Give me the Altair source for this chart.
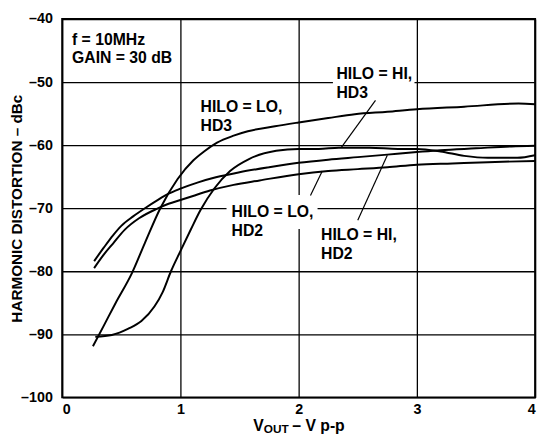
import altair as alt
import pandas as pd

# ---- data ----
x_ticks = [0, 1, 2, 3, 4]
y_ticks = [-100, -90, -80, -70, -60, -50, -40]

lo_hd3_x = [0.26, 0.35, 0.45, 0.59, 0.70, 0.83, 0.975, 1.11, 1.20, 1.31, 1.45, 1.57, 1.80, 2.00, 2.25, 2.475, 2.75, 3.00, 3.40, 3.86, 4.00]
lo_hd3_y = [-91.9, -88.7, -85.1, -80.3, -75.5, -70.0, -65.4, -62.4, -61.0, -59.6, -58.5, -57.8, -57.0, -56.4, -55.7, -55.1, -54.7, -54.3, -53.9, -53.4, -53.5]

hi_hd3_x = [0.28, 0.42, 0.56, 0.67, 0.78, 0.85, 0.92, 1.00, 1.09, 1.17, 1.29, 1.42, 1.58, 1.81, 2.00, 2.17, 2.34, 2.60, 2.84, 3.00, 3.20, 3.40, 3.60, 3.85, 4.00]
hi_hd3_y = [-90.4, -90.1, -89.1, -87.9, -85.6, -83.3, -80.0, -76.8, -73.3, -70.3, -66.8, -64.1, -62.2, -60.9, -60.6, -60.6, -60.4, -60.4, -60.6, -60.6, -61.0, -61.7, -62.0, -62.0, -61.6]

hi_hd2_x = [0.27, 0.35, 0.43, 0.50, 0.60, 0.70, 0.80, 0.90, 1.00, 1.15, 1.30, 1.50, 1.75, 2.00, 2.25, 2.50, 2.75, 3.00, 3.20, 3.50, 3.80, 4.00]
hi_hd2_y = [-78.4, -76.3, -74.3, -72.8, -71.3, -70.0, -68.8, -67.7, -66.9, -65.9, -65.1, -64.3, -63.5, -62.8, -62.3, -61.9, -61.5, -61.1, -60.8, -60.5, -60.2, -60.1]

lo_hd2_x = [0.27, 0.35, 0.43, 0.53, 0.65, 0.80, 0.90, 1.00, 1.10, 1.25, 1.45, 1.67, 2.00, 2.25, 2.50, 2.75, 3.00, 3.30, 3.60, 4.00]
lo_hd2_y = [-79.5, -77.4, -75.6, -73.4, -71.6, -70.1, -69.3, -68.7, -68.1, -67.2, -66.3, -65.6, -64.6, -64.1, -63.8, -63.5, -63.1, -62.9, -62.7, -62.5]

series_names = ["HILO = LO, HD3", "HILO = HI, HD3", "HILO = HI, HD2", "HILO = LO, HD2"]

label_texts = ["f = 10MHz\nGAIN = 30 dB", "HILO = LO,\nHD3", "HILO = HI,\nHD3", "HILO = LO,\nHD2", "HILO = HI,\nHD2"]
label_x = [0.083, 1.17, 2.32, 1.433, 2.19]
label_y = [-44.06, -54.8, -49.58, -71.36, -75.05]

# leader lines (label -> curve)
leader_x1 = [2.65, 2.10, 2.50]
leader_y1 = [-52.9, -68.0, -71.9]
leader_x2 = [2.36, 2.20, 2.75]
leader_y2 = [-60.4, -64.1, -61.6]

# white backing boxes behind labels that interrupt gridlines
box_x0 = [2.29, 1.39]
box_x1 = [2.98, 2.16]
box_y0 = [-47.4, -67.9]
box_y1 = [-52.7, -73.3]

x_title_parts = ["V", "OUT", "– V p-p"]
y_title = "HARMONIC DISTORTION – dBc"

# ---- build tables ----
rows = []
for name, xs, ys in zip(series_names,
                        [lo_hd3_x, hi_hd3_x, hi_hd2_x, lo_hd2_x],
                        [lo_hd3_y, hi_hd3_y, hi_hd2_y, lo_hd2_y]):
    for xv, yv in zip(xs, ys):
        rows.append({"series": name, "v": xv, "d": yv})
df = pd.DataFrame(rows)

labels_df = pd.DataFrame({"t": label_texts, "lx": label_x, "ly": label_y})
leaders_df = pd.DataFrame({"a": leader_x1, "b": leader_y1, "a2": leader_x2, "b2": leader_y2})
boxes_df = pd.DataFrame({"x0": box_x0, "x1": box_x1, "y0": box_y0, "y1": box_y1})

FONT = "Liberation Sans"

xscale = alt.Scale(domain=[0, 4], nice=False)
yscale = alt.Scale(domain=[-100, -40], nice=False)

neg_expr = "datum.value < 0 ? '–' + format(-datum.value, 'd') : format(datum.value, 'd')"

xaxis = alt.Axis(values=x_ticks, title=None, labelPadding=5, labelExpr=neg_expr)
yaxis = alt.Axis(values=y_ticks, title=y_title, labelPadding=10, labelExpr=neg_expr,
                 titleX=-46, titleY=192, titleAngle=270, titleAlign="center",
                 titleBaseline="middle", titleFontSize=15.5, titleFontWeight="bold",
                 titleFont=FONT, titleColor="black")

lines = alt.Chart(df).mark_line(color="black", strokeWidth=2, interpolate="monotone").encode(
    x=alt.X("v:Q", scale=xscale, axis=xaxis),
    y=alt.Y("d:Q", scale=yscale, axis=yaxis),
    detail="series:N",
)

boxes = alt.Chart(boxes_df).mark_rect(fill="white", strokeWidth=0).encode(
    x=alt.X("x0:Q", scale=xscale, axis=xaxis), x2="x1:Q",
    y=alt.Y("y0:Q", scale=yscale, axis=yaxis), y2="y1:Q",
)

leaders = alt.Chart(leaders_df).mark_rule(color="black", strokeWidth=1.2).encode(
    x=alt.X("a:Q", scale=xscale, axis=xaxis), x2="a2:Q",
    y=alt.Y("b:Q", scale=yscale, axis=yaxis), y2="b2:Q",
)

labels = alt.Chart(labels_df).mark_text(
    align="left", baseline="alphabetic", font=FONT, fontSize=16, fontWeight="bold",
    color="black", lineBreak="\n", lineHeight=19,
).encode(
    x=alt.X("lx:Q", scale=xscale, axis=xaxis),
    y=alt.Y("ly:Q", scale=yscale, axis=yaxis),
    text="t:N",
)

one = pd.DataFrame({"k": [0]})
xt_v = alt.Chart(one).mark_text(align="left", baseline="alphabetic", font=FONT, fontSize=16,
                                fontWeight="bold", color="black").encode(
    x=alt.value(194), y=alt.value(418), text=alt.value(x_title_parts[0]))
xt_sub = alt.Chart(one).mark_text(align="left", baseline="alphabetic", font=FONT, fontSize=12,
                                  fontWeight="bold", color="black").encode(
    x=alt.value(204.7), y=alt.value(420), text=alt.value(x_title_parts[1]))
xt_rest = alt.Chart(one).mark_text(align="left", baseline="alphabetic", font=FONT, fontSize=16,
                                   fontWeight="bold", color="black").encode(
    x=alt.value(233.5), y=alt.value(418), text=alt.value(x_title_parts[2]))

chart = alt.layer(lines, boxes, leaders, labels, xt_v, xt_sub, xt_rest).properties(
    width=480, height=384,
    autosize=alt.AutoSizeParams(type="none"),
    padding={"left": 55, "top": 8, "right": 7, "bottom": 36},
    background="white",
).configure_view(
    stroke="black", strokeWidth=2,
).configure_axis(
    labelFont=FONT, labelFontWeight="bold", labelFontSize=14.5, labelColor="black",
    grid=True, gridColor="black", gridWidth=1.3, gridOpacity=1,
    domain=False, ticks=False,
)

chart.save("out.html", embed_options={"renderer": "svg", "actions": False})
